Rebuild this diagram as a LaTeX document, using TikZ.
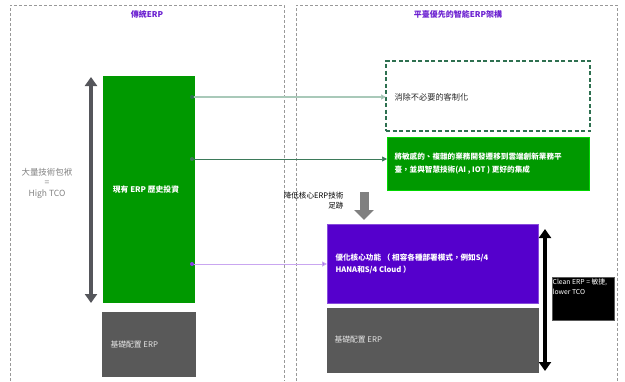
\documentclass[tikz,border=0pt]{standalone}
\usepackage{fontspec}
\setmainfont{Noto Sans CJK TC}
\usetikzlibrary{arrows.meta,calc}
\definecolor{ttl}{HTML}{6A1FD0}
\definecolor{grn}{HTML}{009900}
\definecolor{prp}{HTML}{5500CC}
\definecolor{gry}{HTML}{595959}
\definecolor{dashg}{HTML}{999999}
\definecolor{dgreen}{HTML}{2E7050}
\definecolor{lgreen}{HTML}{A9C9B9}
\definecolor{mgreen}{HTML}{3D7A5A}
\definecolor{lpurp}{HTML}{C9A6F0}
\definecolor{mpurp}{HTML}{8A3EE8}
\definecolor{arrg}{HTML}{55565B}
\tikzset{
  x=1pt, y=-1pt,
  frame/.style={draw=dashg, line width=0.9pt, dash pattern=on 3pt off 2pt},
  title/.style={text=ttl, font=\fontsize{8}{9}\selectfont\bfseries},
  box/.style={inner sep=0pt, outer sep=0pt},
  boxtxt/.style={text=white, font=\fontsize{7.5}{12}\selectfont\bfseries, align=left},
  dotc/.style={circle, fill, inner sep=0pt, minimum size=4pt},
}
\begin{document}
\begin{tikzpicture}
\useasboundingbox (0,0) rectangle (625,381);
% frames
\draw[frame] (10,381) -- (10,5) -- (284,5) -- (284,381);
\draw[frame] (296,381) -- (296,5) -- (617,5) -- (617,381);
\node[title] (t1) at (147,14) {傳統ERP};
\node[title] (t2) at (458,14) {平臺優先的智能ERP架構};
% left side
\node[box, fill=grn, minimum width=92pt, minimum height=227pt] (greenL) at (149,189.5) {};
\node[boxtxt, font=\fontsize{7.8}{12}\selectfont\bfseries] (greenLt) at (146,190) {現有 ERP 歷史投資};
\node[box, fill=gry, minimum width=94pt, minimum height=65pt] (grayL) at (149,344.5) {};
\node[text=white!85!gry, font=\fontsize{7.8}{9}\selectfont, anchor=west] (grayLt) at (107,345) {基礎配置 ERP};
\coordinate (la1) at (91,77);
\coordinate (la2) at (91,303);
\draw[arrg, line width=3.2pt, {Triangle[width=12pt,length=9pt]}-{Triangle[width=12pt,length=9pt]}] (la1) -- (la2);
\node[text=gray, font=\fontsize{8.5}{10.5}\selectfont, align=center] (tco) at (47,183) {大量技術包袱\\=\\High TCO};
% right side
\node[box, draw=dgreen, line width=1.1pt, dash pattern=on 4pt off 2.5pt, minimum width=204pt, minimum height=70pt] (dbox) at (488,96) {};
\node[font=\fontsize{8.2}{10}\selectfont, anchor=west, text=black!85] (dboxt) at (391,97) {消除不必要的客制化};
\node[box, fill=grn, draw=green!60!grn, line width=0.5pt, minimum width=202pt, minimum height=53pt] (greenR) at (488,163.5) {};
\node[boxtxt, anchor=west, font=\fontsize{7.6}{12.5}\selectfont\bfseries] (greenRt) at (391,163.5) {將敏感的、複雜的業務開發遷移到雲端創新業務平\\臺，並與智慧技術(AI , IOT ) 更好的集成};
\node[box, fill=prp, draw=prp!70!white, line width=0.6pt, minimum width=211pt, minimum height=79pt] (purp) at (432.5,263.5) {};
\node[boxtxt, anchor=west, font=\fontsize{7.6}{12.5}\selectfont\bfseries] (purpt) at (332,264) {優化核心功能 （ 相容各種部署模式，例如S/4\\HANA和S/4 Cloud ）};
\node[box, fill=gry, minimum width=212pt, minimum height=65pt] (grayR) at (433,340.5) {};
\node[text=white!85!gry, font=\fontsize{7.8}{9}\selectfont, anchor=west] (grayRt) at (331,340) {基礎配置 ERP};
% gray down arrow
\coordinate (ga1) at (364,192);
\coordinate (ga2) at (364,220);
\draw[gray, line width=9pt, -{Triangle[width=19pt,length=10pt]}] (ga1) -- (ga2);
\node[font=\fontsize{7.6}{10}\selectfont, align=right, anchor=east] (red) at (347,201) {降低核心ERP技術\\足跡};
% black arrow
\coordinate (ba1) at (545,229);
\coordinate (ba2) at (545,371);
\draw[black, line width=4pt, {Triangle[width=12pt,length=9pt]}-{Triangle[width=12pt,length=9pt]}] (ba1) -- (ba2);
\node[box, fill=black, draw=gray!70!black, line width=0.4pt, minimum width=62pt, minimum height=43pt] (clean) at (583,298.5) {};
\node[text=white, font=\fontsize{6.8}{10}\selectfont, align=left, anchor=north west, inner sep=0pt] (cleant) at ($(clean.north west)+(0.5,2)$) {Clean ERP = 敏捷,\\lower TCO};
% connectors
\coordinate (c1) at (192,97);
\coordinate (c2) at (192,159);
\coordinate (c3) at (192,264);
\draw[lgreen, line width=1.4pt, -{Triangle[width=5pt,length=5pt,fill=dgreen]}] (c1) -- (c1 -| dbox.west);
\node[dotc, dgreen] (d1) at (c1) {};
\draw[mgreen, line width=0.7pt, -{Triangle[width=5pt,length=5pt]}] (c2) -- (c2 -| greenR.west);
\node[dotc, mgreen] (d2) at (c2) {};
\draw[lpurp, line width=1pt, -{Triangle[width=5pt,length=5pt,fill=mpurp]}] (c3) -- (c3 -| purp.west);
\node[dotc, mpurp] (d3) at (c3) {};
\end{tikzpicture}
\end{document}
